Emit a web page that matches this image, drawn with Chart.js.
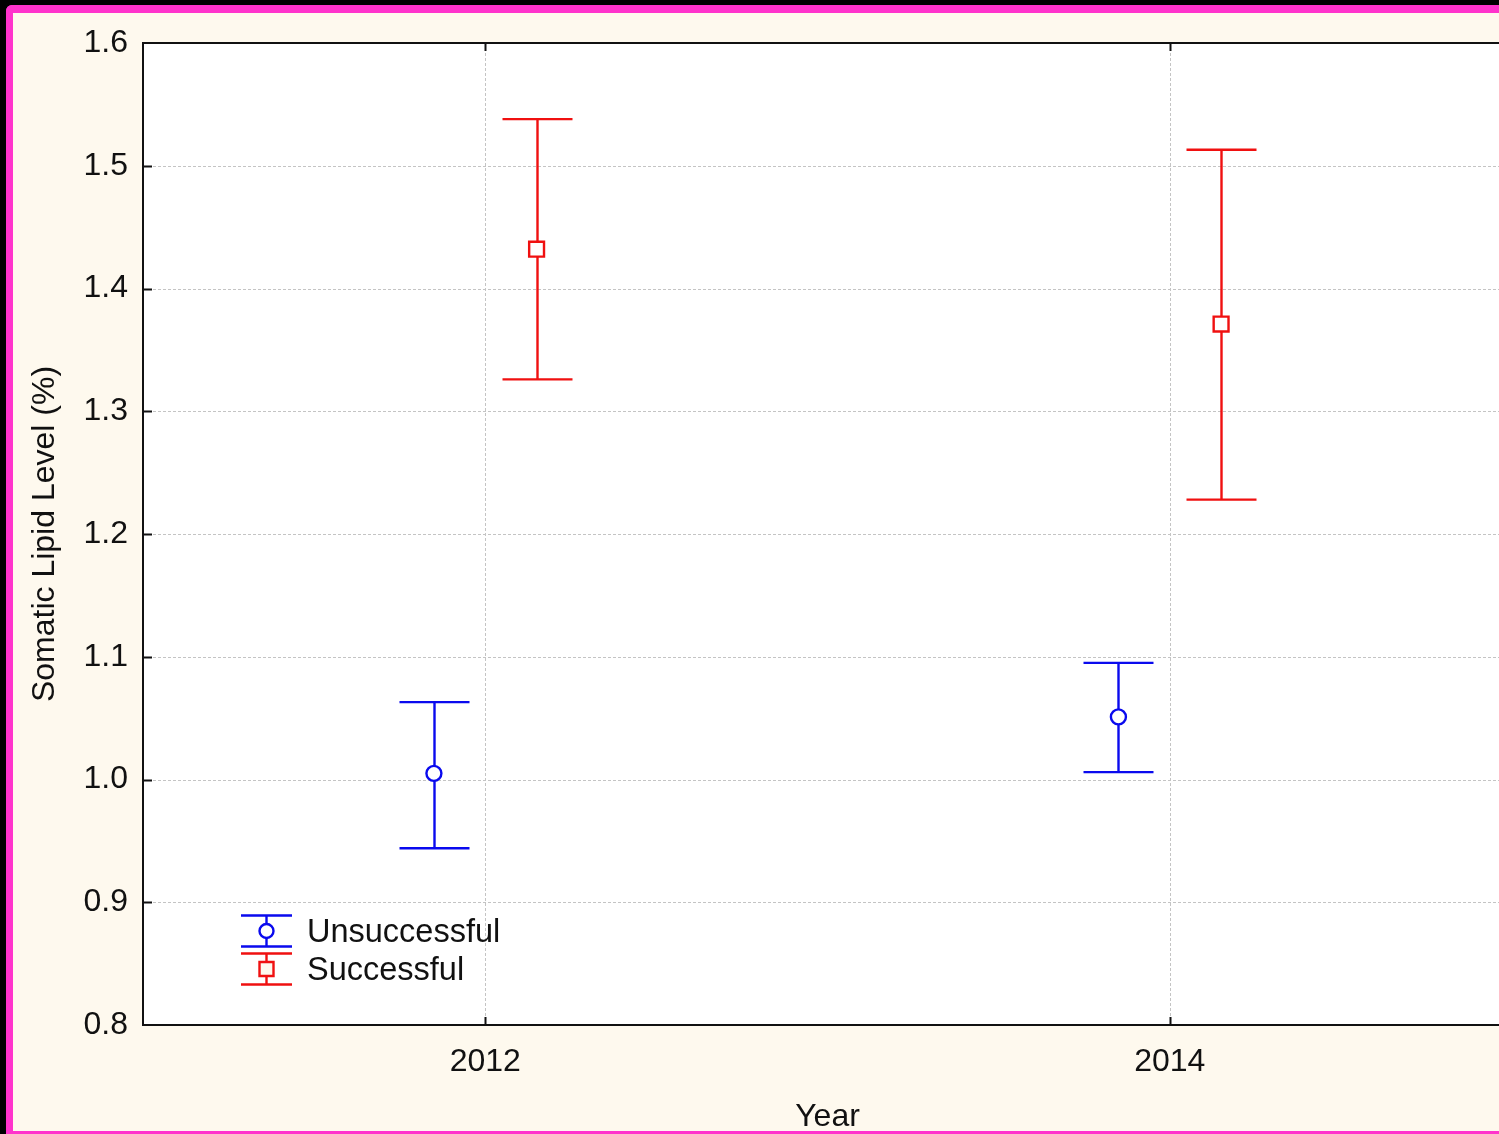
<!DOCTYPE html>
<html>
<head>
<meta charset="utf-8">
<script src="https://cdn.jsdelivr.net/npm/chart.js@4/dist/chart.umd.min.js"></script>
<style>
  html, body { margin: 0; padding: 0; background: #000; overflow: hidden; width: 1499px; height: 1134px; }
  .frame {
    position: absolute; left: 6px; top: 5px; width: 1600px; height: 1134px;
    box-sizing: border-box; background: #fef9ee;
    border-top: 8px solid #ff33cc; border-left: 7px solid #ff33cc; border-bottom: 8px solid #ff33cc;
    border-top-left-radius: 6px;
  }
  #chart { position: absolute; left: 0; top: 0; }
</style>
</head>
<body>
<div class="frame"></div>
<canvas id="chart" width="1530" height="1134"></canvas>
<script>
// Somatic lipid level by year, means with confidence whiskers
const years = [2012, 2014];
const unsuccessfulMean = [1.005, 1.051];
const unsuccessfulLow  = [0.944, 1.006];
const unsuccessfulHigh = [1.063, 1.095];
const successfulMean = [1.432, 1.371];
const successfulLow  = [1.326, 1.228];
const successfulHigh = [1.538, 1.513];
const yTickValues = [0.8, 0.9, 1.0, 1.1, 1.2, 1.3, 1.4, 1.5, 1.6];
const xTickValues = [2012, 2014];

const FONT = '"Liberation Sans", Arial, sans-serif';
const BLUE = '#0a0aee';
const RED = '#f01010';
const SHIFT = 0.15;       // horizontal dodge of each group around its year
const CAP_HALF = 35;      // half width of whisker caps, px
const BAR_WIDTH = 2.4;

function points(mean, low, high, dx) {
  return years.map((yr, i) => ({ x: yr + dx, y: mean[i], low: low[i], high: high[i] }));
}

const plotBackground = {
  id: 'plotBackground',
  beforeDraw(chart) {
    const { ctx, chartArea: a } = chart;
    ctx.save();
    ctx.fillStyle = '#ffffff';
    ctx.fillRect(a.left, a.top, a.right - a.left, a.bottom - a.top);
    ctx.restore();
  }
};

const gridAndBars = {
  id: 'gridAndBars',
  beforeDatasetsDraw(chart) {
    const { ctx, chartArea: a, scales: { x, y } } = chart;
    ctx.save();
    ctx.strokeStyle = '#c4c4c4';
    ctx.lineWidth = 1;
    ctx.setLineDash([3, 2]);
    yTickValues.slice(1, -1).forEach(v => {
      const py = Math.round(y.getPixelForValue(v)) + 0.5;
      ctx.beginPath(); ctx.moveTo(a.left, py); ctx.lineTo(a.right, py); ctx.stroke();
    });
    xTickValues.forEach(v => {
      const px = Math.round(x.getPixelForValue(v)) + 0.5;
      ctx.beginPath(); ctx.moveTo(px, a.top); ctx.lineTo(px, a.bottom); ctx.stroke();
    });
    ctx.setLineDash([]);
    // whiskers
    chart.data.datasets.forEach(ds => {
      ctx.strokeStyle = ds.borderColor;
      ctx.lineWidth = BAR_WIDTH;
      ds.data.forEach(p => {
        const px = Math.round(x.getPixelForValue(p.x)) + 0.5;
        const yl = y.getPixelForValue(p.low);
        const yh = y.getPixelForValue(p.high);
        ctx.beginPath();
        ctx.moveTo(px, yl); ctx.lineTo(px, yh);
        ctx.moveTo(px - CAP_HALF, yl); ctx.lineTo(px + CAP_HALF, yl);
        ctx.moveTo(px - CAP_HALF, yh); ctx.lineTo(px + CAP_HALF, yh);
        ctx.stroke();
      });
    });
    ctx.restore();
  }
};

const frameAndLegend = {
  id: 'frameAndLegend',
  afterDraw(chart) {
    const { ctx, chartArea: a, scales: { x, y } } = chart;
    ctx.save();
    ctx.strokeStyle = '#111';
    ctx.lineWidth = 2;
    ctx.beginPath();
    ctx.moveTo(a.left, a.top); ctx.lineTo(a.right, a.top); ctx.lineTo(a.right, a.bottom);
    ctx.stroke();
    // inward tick marks
    yTickValues.slice(1, -1).forEach(v => {
      const py = Math.round(y.getPixelForValue(v)) + 0.5;
      ctx.beginPath();
      ctx.moveTo(a.left, py); ctx.lineTo(a.left + 9, py);
      ctx.moveTo(a.right, py); ctx.lineTo(a.right - 9, py);
      ctx.stroke();
    });
    xTickValues.forEach(v => {
      const px = Math.round(x.getPixelForValue(v)) + 0.5;
      ctx.beginPath();
      ctx.moveTo(px, a.bottom); ctx.lineTo(px, a.bottom - 8);
      ctx.moveTo(px, a.top); ctx.lineTo(px, a.top + 8);
      ctx.stroke();
    });

    // legend
    const sx = a.left + 123;
    const rows = [
      { label: 'Unsuccessful', color: BLUE, shape: 'circle', cy: a.bottom - 94 },
      { label: 'Successful', color: RED, shape: 'square', cy: a.bottom - 56 }
    ];
    rows.forEach(r => {
      ctx.strokeStyle = r.color;
      ctx.lineWidth = BAR_WIDTH;
      ctx.beginPath();
      ctx.moveTo(sx + 0.5, r.cy - 15); ctx.lineTo(sx + 0.5, r.cy + 15);
      ctx.moveTo(sx - 25, r.cy - 15.5); ctx.lineTo(sx + 26, r.cy - 15.5);
      ctx.moveTo(sx - 25, r.cy + 15.5); ctx.lineTo(sx + 26, r.cy + 15.5);
      ctx.stroke();
      ctx.beginPath();
      if (r.shape === 'circle') {
        ctx.fillStyle = '#ffffff';
        ctx.arc(sx + 0.5, r.cy, 7, 0, Math.PI * 2);
      } else {
        ctx.fillStyle = '#fef9ee';
        ctx.rect(sx - 6.5, r.cy - 7, 14, 14);
      }
      ctx.fill(); ctx.stroke();
      ctx.fillStyle = '#111';
      ctx.font = '32.5px ' + FONT;
      ctx.textBaseline = 'middle';
      ctx.textAlign = 'left';
      ctx.fillText(r.label, a.left + 164, r.cy + 2);
    });
    ctx.restore();
  }
};

new Chart(document.getElementById('chart'), {
  type: 'scatter',
  data: {
    datasets: [
      {
        label: 'Unsuccessful',
        data: points(unsuccessfulMean, unsuccessfulLow, unsuccessfulHigh, -SHIFT),
        borderColor: BLUE, backgroundColor: '#ffffff',
        pointStyle: 'circle', pointRadius: 7.5, pointBorderWidth: BAR_WIDTH, pointHoverRadius: 7.5
      },
      {
        label: 'Successful',
        data: points(successfulMean, successfulLow, successfulHigh, SHIFT),
        borderColor: RED, backgroundColor: '#ffffff',
        pointStyle: 'rect', pointRadius: 10.5, pointBorderWidth: BAR_WIDTH, pointHoverRadius: 10.5
      }
    ]
  },
  options: {
    responsive: false,
    animation: false,
    devicePixelRatio: 1,
    layout: { padding: { top: 43, right: 18, left: 0, bottom: 0 } },
    plugins: { legend: { display: false }, tooltip: { enabled: false } },
    scales: {
      x: {
        type: 'linear', min: 2011, max: 2015,
        afterBuildTicks: s => { s.ticks = xTickValues.map(v => ({ value: v })); },
        afterFit: s => { s.height = 109; },
        grid: { display: false, drawTicks: false },
        border: { display: true, color: '#111', width: 2 },
        ticks: { color: '#111', font: { family: FONT, size: 32 }, padding: 18, callback: v => String(v) },
        title: { display: true, text: 'Year', color: '#111', font: { family: FONT, size: 32 }, padding: { top: 0, bottom: -2 } }
      },
      y: {
        min: 0.8, max: 1.6,
        afterBuildTicks: s => { s.ticks = yTickValues.map(v => ({ value: v })); },
        afterFit: s => { s.width = 143; },
        grid: { display: false, drawTicks: false },
        border: { display: true, color: '#111', width: 2 },
        ticks: { color: '#111', font: { family: FONT, size: 32 }, padding: 15, callback: v => v.toFixed(1) },
        title: { display: true, text: 'Somatic Lipid Level (%)', color: '#111', font: { family: FONT, size: 32 }, padding: { top: 26, bottom: 0 } }
      }
    }
  },
  plugins: [plotBackground, gridAndBars, frameAndLegend]
});
</script>
</body>
</html>
